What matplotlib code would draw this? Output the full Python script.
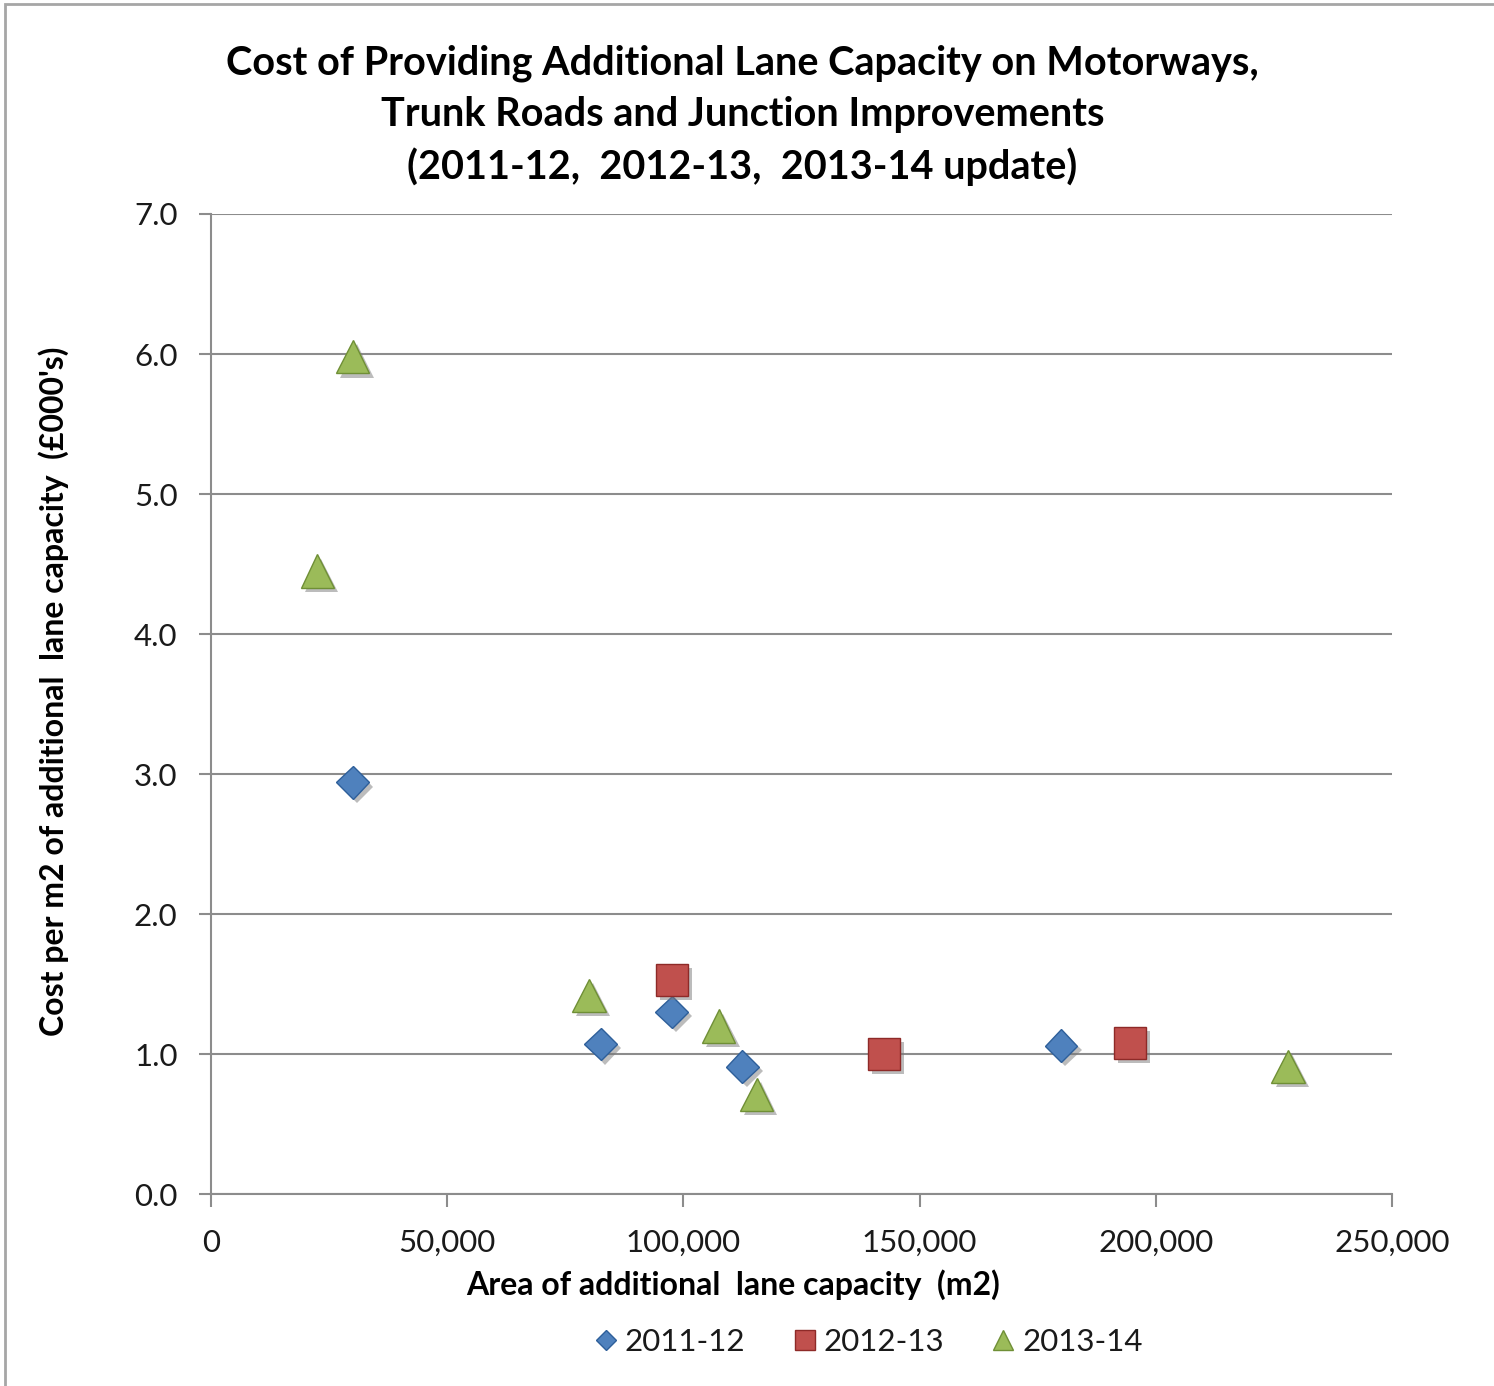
import matplotlib.pyplot as plt
from matplotlib import patheffects
from matplotlib.lines import Line2D
from matplotlib.patches import Rectangle
from matplotlib.ticker import FuncFormatter, MultipleLocator

plt.rcParams["font.family"] = ["Lato", "DejaVu Sans"]

# Area of additional lane capacity (m2) and cost per m2 (£000's), by year
area_2011 = [30000, 82500, 97500, 112500, 180000]
cost_2011 = [2.94, 1.07, 1.30, 0.91, 1.06]

area_2012 = [97500, 142500, 194500]
cost_2012 = [1.53, 1.00, 1.08]

area_2013 = [30000, 22500, 80000, 107500, 115500, 228000]
cost_2013 = [5.98, 4.45, 1.42, 1.20, 0.71, 0.91]

series = [
    ("2011-12", area_2011, cost_2011, "D", 16.5, "#4F81BD", "#2E5F9A"),
    ("2012-13", area_2012, cost_2012, "s", 23, "#C0504D", "#8E2A28"),
    ("2013-14", area_2013, cost_2013, "^", 24, "#9BBB59", "#6F8F36"),
]

TEXT = "#1a1a1a"
GRID = "#8c8c8c"

fig = plt.figure(figsize=(14.94, 13.86), dpi=100)
ax = fig.add_axes([0.1412, 0.1385, 0.7905, 0.7071])

shadow = [patheffects.SimplePatchShadow(offset=(3, -3), shadow_rgbFace="#7a7a7a", alpha=0.5),
          patheffects.Normal()]

for label, xs, ys, marker, ms, face, edge in series:
    ax.plot(xs, ys, linestyle="none", marker=marker, markersize=ms,
            markerfacecolor=face, markeredgecolor=edge, markeredgewidth=1.0,
            label=label, path_effects=shadow, zorder=3, clip_on=False)

ax.set_xlim(0, 250000)
ax.set_ylim(0, 7.0)
ax.xaxis.set_major_locator(MultipleLocator(50000))
ax.yaxis.set_major_locator(MultipleLocator(1.0))
ax.xaxis.set_major_formatter(FuncFormatter(lambda v, _: f"{v:,.0f}"))
ax.yaxis.set_major_formatter(FuncFormatter(lambda v, _: f"{v:.1f}"))

ax.yaxis.grid(True, color=GRID, linewidth=1.5)
ax.set_axisbelow(True)
for side in ("top", "right"):
    ax.spines[side].set_visible(False)
for side in ("left", "bottom"):
    ax.spines[side].set_color(GRID)
    ax.spines[side].set_linewidth(1.5)
ax.tick_params(axis="both", direction="out", length=9, width=1.5, color=GRID,
               labelsize=22.5, labelcolor=TEXT)
ax.tick_params(axis="x", pad=16)
ax.tick_params(axis="y", pad=15)

ax.set_xlabel("Area of additional  lane capacity  (m2)", fontsize=23,
              fontweight="bold", color="black")
ax.xaxis.set_label_coords(0.442, -0.077)
ax.set_ylabel("Cost per m2 of additional  lane capacity  (£000's)", fontsize=23,
              fontweight="bold", color="black")
ax.yaxis.set_label_coords(-0.1205, 0.513)

fig.text(0.497, 0.968,
         "Cost of Providing Additional Lane Capacity on Motorways,\n"
         "Trunk Roads and Junction Improvements\n"
         "(2011-12,  2012-13,  2013-14 update)",
         ha="center", va="top", fontsize=28.5, fontweight="bold",
         linespacing=1.47, color="black")

handles = [Line2D([], [], linestyle="none", marker=m, markersize=ms * 0.62,
                  markerfacecolor=f, markeredgecolor=e)
           for _, _, _, m, ms, f, e in series]
fig.legend(handles, [s[0] for s in series], loc="center",
           bbox_to_anchor=(0.58, 0.032), ncol=3, frameon=False, fontsize=22.5,
           handletextpad=0.1, columnspacing=1.4, handlelength=1.0,
           labelcolor=TEXT)

# outer chart-area border (left and top edges visible)
fig.add_artist(Rectangle((5 / 1494, -0.01), 1.0, 1.01 - 4 / 1386,
                         transform=fig.transFigure, fill=False,
                         edgecolor="#a6a6a6", linewidth=2))

fig.savefig("out.png", dpi=100, facecolor="white")
